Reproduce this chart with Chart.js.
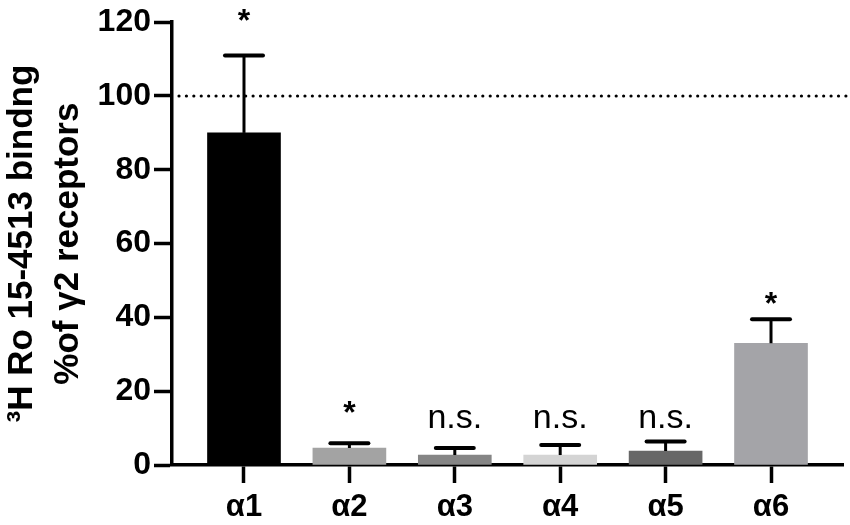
<!DOCTYPE html>
<html>
<head>
<meta charset="utf-8">
<script src="https://cdn.jsdelivr.net/npm/chart.js@4.4.1/dist/chart.umd.min.js"></script>
<style>
  html, body { margin: 0; padding: 0; background: #fff; }
  #wrap { width: 850px; height: 525px; }
</style>
</head>
<body>
<div id="wrap"><canvas id="bindingChart" width="850" height="525"></canvas></div>
<script>
// values
const categories = ['α1', 'α2', 'α3', 'α4', 'α5', 'α6'];
const means = [90, 4.6, 2.7, 2.7, 3.8, 33];
const errors = [21, 1.3, 1.9, 2.7, 2.6, 6.5];
const barColors = ['#000000', '#a3a3a3', '#858585', '#d4d4d4', '#676767', '#a4a4a8'];
const signif = ['*', '*', 'n.s.', 'n.s.', 'n.s.', '*'];
const signifY = [121.5, 15.5, 12.5, 12.5, 12.5, 45];
const yTicks = [0, 20, 40, 60, 80, 100, 120];
const refLine = 100;

const FONT = "'Liberation Sans', Arial, sans-serif";

// error bars, dotted 100% line and significance marks
const extras = {
    id: 'extras',
    afterDatasetsDraw(chart) {
        const ctx = chart.ctx;
        const xs = chart.scales.x, ys = chart.scales.y;
        const area = chart.chartArea;

        ctx.save();
        // dotted reference line
        ctx.strokeStyle = '#000';
        ctx.lineWidth = 3.2;
        ctx.lineCap = 'round';
        ctx.setLineDash([0.01, 7.4]);
        const yRef = ys.getPixelForValue(refLine);
        ctx.beginPath();
        ctx.moveTo(area.left + 7, yRef);
        ctx.lineTo(area.right + 3, yRef);
        ctx.stroke();
        ctx.setLineDash([]);

        // upper error bars
        ctx.lineCap = 'butt';
        means.forEach((m, i) => {
            const x = xs.getPixelForValue(i);
            const y0 = ys.getPixelForValue(m);
            const y1 = ys.getPixelForValue(m + errors[i]);
            ctx.lineWidth = 3;
            ctx.beginPath();
            ctx.moveTo(x, y0);
            ctx.lineTo(x, y1);
            ctx.stroke();
            ctx.lineWidth = 4;
            ctx.lineCap = 'round';
            ctx.beginPath();
            ctx.moveTo(x - 19, y1);
            ctx.lineTo(x + 19, y1);
            ctx.stroke();
            ctx.lineCap = 'butt';
        });

        // significance labels
        ctx.fillStyle = '#000';
        ctx.textAlign = 'center';
        ctx.textBaseline = 'middle';
        signif.forEach((s, i) => {
            const x = xs.getPixelForValue(i);
            const y = ys.getPixelForValue(signifY[i]);
            if (s === '*') {
                ctx.font = 'bold 32px ' + FONT;
                ctx.fillText(s, x, y + 6);
            } else {
                ctx.font = '34px ' + FONT;
                ctx.fillText(s, x, y);
            }
        });
        ctx.restore();
    }
};

new Chart(document.getElementById('bindingChart'), {
    type: 'bar',
    data: {
        datasets: [{
            data: means.map((v, i) => ({ x: i, y: v })),
            backgroundColor: barColors,
            borderWidth: 0,
            barThickness: 73
        }]
    },
    options: {
        responsive: false,
        animation: false,
        layout: { padding: { top: 12, right: 7, bottom: 0, left: 0 } },
        plugins: { legend: { display: false }, tooltip: { enabled: false } },
        scales: {
            x: {
                type: 'linear',
                offset: false,
                min: -0.683,
                max: 5.683,
                afterBuildTicks: (axis) => { axis.ticks = categories.map((c, i) => ({ value: i })); },
                afterFit: (axis) => { axis.height = 60; },
                ticks: {
                    callback: (v) => categories[v],
                    color: '#000',
                    font: { family: FONT, size: 31, weight: 'bold' },
                    padding: 6,
                    maxRotation: 0
                },
                grid: { offset: false, drawOnChartArea: false, tickLength: 18, tickWidth: 3.5, tickColor: '#000' },
                border: { color: '#000', width: 3.5 }
            },
            y: {
                min: 0,
                max: 120,
                afterBuildTicks: (axis) => { axis.ticks = yTicks.map(v => ({ value: v })); },
                afterFit: (axis) => { axis.width = 172; },
                ticks: {
                    color: '#000',
                    font: { family: FONT, size: 32, weight: 'bold' },
                    padding: 3
                },
                grid: { drawOnChartArea: false, tickLength: 18, tickWidth: 3.5, tickColor: '#000' },
                border: { color: '#000', width: 3.5 },
                title: {
                    display: true,
                    text: ['³H Ro 15-4513 bindng', '%of γ2 receptors'],
                    color: '#000',
                    font: { family: FONT, size: 35, weight: 'bold', lineHeight: 1.3 },
                    padding: { top: 0, bottom: 0 }
                }
            }
        }
    },
    plugins: [extras]
});
</script>
</body>
</html>
